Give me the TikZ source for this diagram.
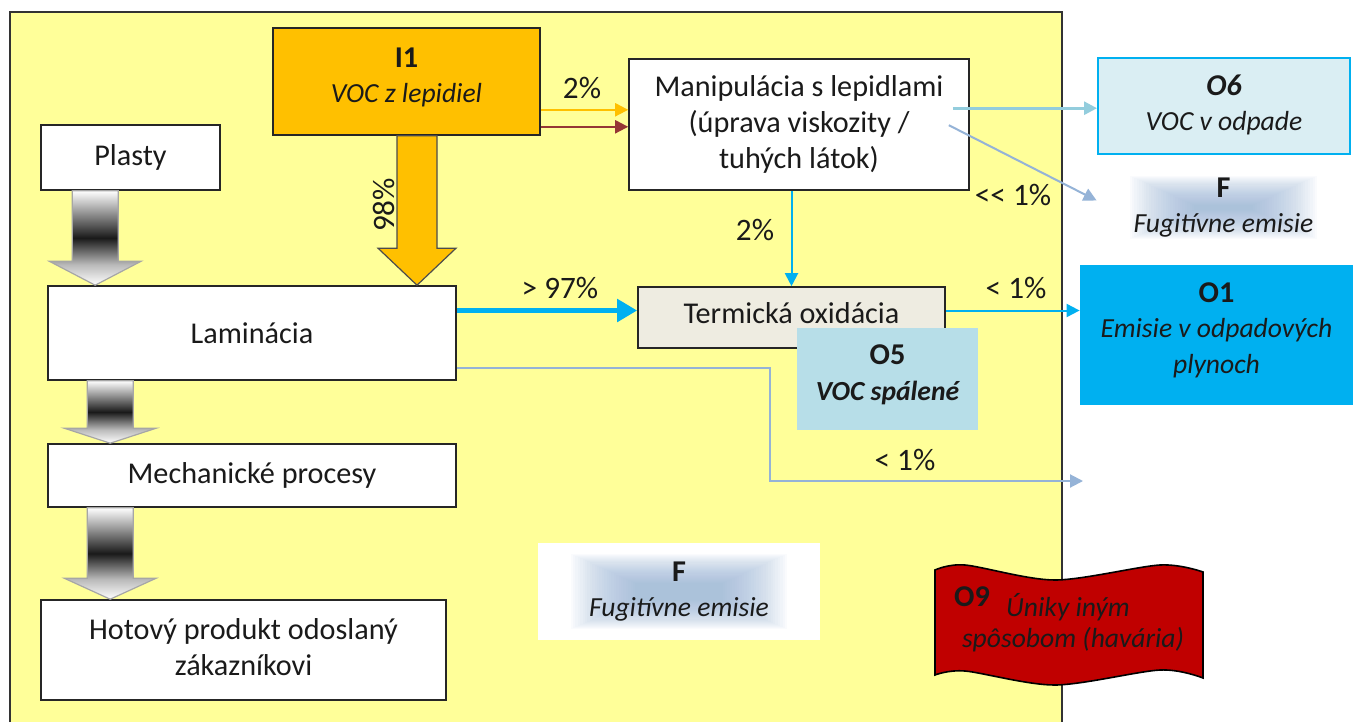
\documentclass[tikz,border=0pt]{standalone}
\usepackage{fontspec}
\setmainfont{Carlito}
\usetikzlibrary{arrows.meta,calc,fit}
\definecolor{bgyellow}{HTML}{FFFF99}
\definecolor{ione}{HTML}{FFC000}
\definecolor{orline}{HTML}{FFC000}
\definecolor{brownline}{HTML}{953735}
\definecolor{aqualine}{HTML}{93CDDD}
\definecolor{steelline}{HTML}{95B3D7}
\definecolor{cyanc}{HTML}{00B0F0}
\definecolor{termfill}{HTML}{EEECE1}
\definecolor{ofivefill}{HTML}{B7DEE8}
\definecolor{osixfill}{HTML}{DAEEF3}
\definecolor{flagred}{HTML}{C00000}
\definecolor{glowc}{HTML}{95B3D7}
\definecolor{txt}{HTML}{1A1A1A}
\pgfdeclareverticalshading{grayarrow}{100bp}{color(0bp)=(white); color(25bp)=(white); color(36bp)=(gray!55); color(50bp)=(black!90); color(75bp)=(white); color(100bp)=(white)}
\newcommand\myfs{\fontsize{15.1}{17.8}\selectfont}
\newcommand\itfs{\fontsize{13.8}{17.8}\selectfont\itshape}
\newcommand\lblfs{\fontsize{15.6}{17.8}\selectfont}
% #1 style, #2 top centre, #3 tip, #4 half shaft, #5 half head, #6 head length
\newcommand\blockarrow[6]{\path[#1] let \p1=(#2), \p2=(#3) in
  (\x1-#4,\y1) -- (\x1-#4,\y2+#6) -- (\x1-#5,\y2+#6) -- (\x1,\y2) -- (\x1+#5,\y2+#6) -- (\x1+#4,\y2+#6) -- (\x1+#4,\y1) -- cycle;}
\newcommand\glow[1]{\foreach \i in {0,...,27}{\fill[glowc,opacity=0.045] ($(#1.south west)+({33+\i*2.4},{-(11+\i*1.1)})$) rectangle ($(#1.north east)+({-33-\i*2.4},{11+\i*1.1})$);}}
\begin{document}
\begin{tikzpicture}[x=0.5pt,y=-0.5pt,
  every node/.style={text=txt},
  box/.style={draw=black!85, line width=0.8pt, fill=white, inner sep=0pt},
  obox/.style={inner sep=0pt},
  btext/.style={align=center, font=\myfs, inner sep=0pt},
  lbl/.style={font=\lblfs, inner sep=1pt},
  tip/.style={-{Triangle[length=6.5pt,width=6.5pt]}},
]
\useasboundingbox (0,0) rectangle (1353,722);
\fill[white] (0,0) rectangle (1353,722);
% main yellow area
\fill[bgyellow] (10,12) rectangle (1062,722);
\draw[black!80, line width=0.8pt] (10,722) -- (10,12) -- (1062,12) -- (1062,722);

% process boxes
\node[box, fit={(41,125) (220,190)}] (plasty) {};
\node[btext] (plastyt) at (plasty.center) {Plasty};
\node[box, fit={(48,286) (456,380)}] (lam) {};
\node[btext] (lamt) at (lam.center) {Laminácia};
\node[box, fit={(48,444) (456,507)}] (mech) {};
\node[btext] (mecht) at (mech.center) {Mechanické procesy};
\node[box, fit={(41,600) (446,700)}] (hot) {};
\node[btext] (hott) at ($(hot.center)+(0,-3)$) {Hotový produkt odoslaný\\zákazníkovi};
\node[box, fill=ione, fit={(273,28) (540,135)}] (i1) {};
\node[btext] (i1t) at ($(i1.center)+(0,-4)$) {\textbf{I1}\\{\itfs VOC z lepidiel}};
\node[box, fit={(629,59) (969,190)}] (manip) {};
\node[btext] (manipt) at (manip.center) {Manipulácia s lepidlami\\(úprava viskozity /\\tuhých látok)};
\node[box, fill=termfill, fit={(638,287) (945,348)}] (term) {};
\node[btext] (termt) at ($(term.center)+(0,-4)$) {Termická oxidácia};
\node[obox, fill=ofivefill, fit={(797,328) (978,430)}] (o5) {};
\node[btext] (o5t) at ($(o5.center)+(0,-4)$) {\textbf{O5}\\{\itfs\bfseries VOC spálené}};
\node[obox, fill=osixfill, draw=cyanc, line width=1pt, fit={(1098,58) (1350,154)}] (o6) {};
\node[btext] (o6t) at ($(o6.center)+(0,-1)$) {\textbf{\textit{O6}}\\{\itfs VOC v odpade}};
\node[obox, fill=cyanc, fit={(1080,265) (1353,405)}] (o1) {};
\node[btext] (o1t) at ($(o1.center)+(0,-5)$) {\textbf{O1}\\{\itfs Emisie v odpadových}\\{\itfs plynoch}};

% fugitive emission glows
\node[obox, fit={(1097,165) (1350,250)}] (fupbox) {};
\glow{fupbox}
\node[btext] (fup) at (fupbox.center) {\textbf{F}\\{\itfs Fugitívne emisie}};
\node[obox, fill=white, fit={(538,543) (820,640)}] (flobox) {};
\glow{flobox}
\node[btext] (flo) at (flobox.center) {\textbf{F}\\{\itfs Fugitívne emisie}};

% block arrows
\coordinate (a0t) at ($(i1.south)+(10.5,0)$);
\blockarrow{fill=ione, draw=black!70, line width=0.6pt}{a0t}{a0t |- lam.north}{10pt}{19.5pt}{18.5pt}
\coordinate (a1t) at ($(plasty.south west)+(55,0)$);
\blockarrow{shade, shading=grayarrow, draw=gray!70, line width=0.6pt}{a1t}{a1t |- lam.north}{11.5pt}{23pt}{12pt}
\coordinate (a2t) at ($(lam.south west)+(63,0)$);
\blockarrow{shade, shading=grayarrow, draw=gray!70, line width=0.6pt}{a2t}{a2t |- mech.north}{11.5pt}{23pt}{7.5pt}
\coordinate (a3t) at ($(mech.south west)+(63,0)$);
\blockarrow{shade, shading=grayarrow, draw=gray!70, line width=0.6pt}{a3t}{a3t |- hot.north}{11.5pt}{23pt}{10.5pt}

% flow lines
\coordinate (ia) at ($(i1.south east)+(0,-26)$);
\coordinate (ib) at ($(i1.south east)+(0,-9)$);
\draw[orline, line width=1pt, tip] (ia) -- (ia -| manip.west);
\draw[brownline, line width=1pt, tip] (ib) -- (ib -| manip.west);
\coordinate (ma) at ($(manip.north east)+(-17,50)$);
\coordinate (mb) at ($(manip.north east)+(-21,67)$);
\draw[aqualine, line width=1.4pt, tip] (ma) -- (ma -| o6.west);
\coordinate (fa) at ($(fupbox.west)+(0,-7)$);
\draw[steelline, line width=1pt, tip] (mb) -- (fa);
\draw[cyanc, line width=1pt, tip] (term.north |- manip.south) -- (term.north);
\coordinate (tw) at ($(term.west)+(0,-7)$);
\draw[cyanc, line width=2.5pt, -{Triangle[length=10pt,width=11pt]}] (tw -| lam.east) -- (tw);
\coordinate (te) at ($(term.east)+(0,-7)$);
\draw[cyanc, line width=1pt, tip] (te) -- (te -| o1.west);
\coordinate (lo) at ($(lam.south east)+(0,-13)$);
\coordinate (bend) at (770,481);
\coordinate (fend) at (1083,481);
\draw[steelline, line width=1pt, tip] (lo) -| (bend) -- (fend);

% labels
\node[lbl] (l2a) at (582,88) {2\%};
\node[lbl, rotate=90] (l98) at (384,205) {98\%};
\node[lbl] (l97) at (560,288) {> 97\%};
\node[lbl] (l2b) at (755,230) {2\%};
\node[lbl] (l1a) at (1013,195) {<{}< 1\%};
\node[lbl] (l1b) at (1016,288) {< 1\%};
\node[lbl] (l1c) at (905,460) {< 1\%};

% O9 flag
\draw[fill=flagred, draw=black, line width=0.8pt]
  plot[smooth] coordinates {(935,570) (965,565) (1055,580) (1160,565) (1203,572)}
  -- plot[smooth] coordinates {(1203,678) (1160,670) (1055,685) (965,671) (935,675)} -- cycle;
\node[font=\myfs\bfseries] (o9) at (972,597) {O9};
\node[font=\itfs] (o9a) at (1068,607) {Úniky iným};
\node[font=\itfs] (o9b) at (1073,640) {spôsobom (havária)};
\end{tikzpicture}
\end{document}
